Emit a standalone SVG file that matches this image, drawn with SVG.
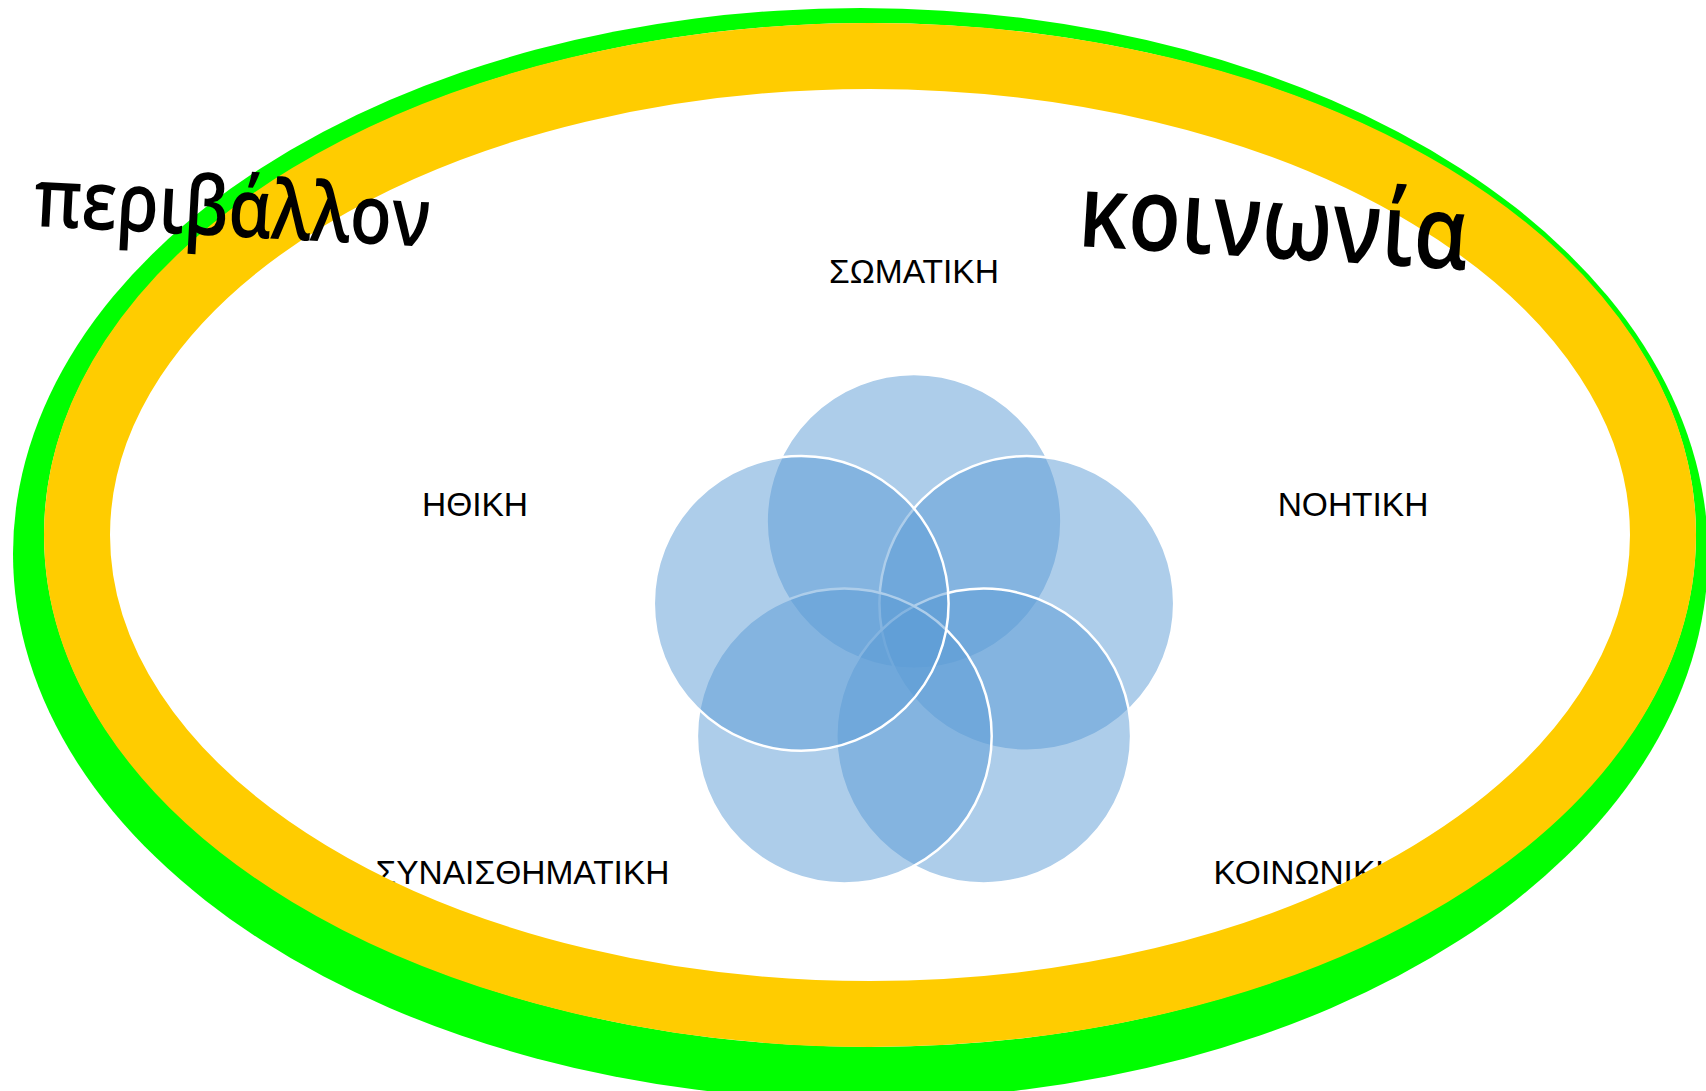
<svg xmlns="http://www.w3.org/2000/svg" width="1706" height="1091" viewBox="0 0 1706 1091">
  <style>
    .bg { fill: #ffffff; }
    .venn { fill: #5B9BD5; fill-opacity: 0.5; stroke: #ffffff; stroke-width: 2.5; }
    .lbl { font-family: "Liberation Sans", Arial, sans-serif; font-size: 33.5px; fill: #000000; text-anchor: middle; }
    .big { font-family: "Open Sans", "Noto Sans", "DejaVu Sans", sans-serif; font-weight: 600; fill: #000000; }
  </style>
  <rect x="0" y="0" width="1706" height="1091" class="bg"/>
  <g id="environment-ring">
    <ellipse cx="860.5" cy="554" rx="847.5" ry="546" fill="#00FF00"/>
    <ellipse cx="870" cy="535" rx="826" ry="512" fill="#ffffff"/>
  </g>
  <g id="circles">
    <g id="node-somatiki"><circle cx="914" cy="521.4" r="147.4" class="venn"/></g>
    <g id="node-noitiki"><circle cx="1026.8" cy="603.4" r="147.4" class="venn"/></g>
    <g id="node-koinoniki"><circle cx="983.7" cy="736" r="147.4" class="venn"/></g>
    <g id="node-synaisthimatiki"><circle cx="844.3" cy="736" r="147.4" class="venn"/></g>
    <g id="node-ithiki"><circle cx="801.2" cy="603.4" r="147.4" class="venn"/></g>
  </g>
  <g id="labels">
    <text id="label-somatiki" class="lbl" x="914" y="283">ΣΩΜΑΤΙΚΗ</text>
    <text id="label-ithiki" class="lbl" x="475" y="516">ΗΘΙΚΗ</text>
    <text id="label-noitiki" class="lbl" x="1353" y="516">ΝΟΗΤΙΚΗ</text>
    <text id="label-synaisthimatiki" class="lbl" x="522.5" y="884">ΣΥΝΑΙΣΘΗΜΑΤΙΚΗ</text>
    <text id="label-koinoniki" class="lbl" x="1306.5" y="884">ΚΟΙΝΩΝΙΚΗ</text>
  </g>
  <g id="society-ring">
    <ellipse cx="870" cy="535" rx="793" ry="479" fill="none" stroke="#FFCC00" stroke-width="66"/>
  </g>
  <g id="connectors"/>
  <g id="node-perivallon">
    <text class="big" x="33" y="226" font-size="82" textLength="397" lengthAdjust="spacingAndGlyphs" transform="rotate(3 33 226)">περιβάλλον</text>
  </g>
  <g id="node-koinonia">
    <text class="big" x="1077" y="246" font-size="102" textLength="390" lengthAdjust="spacingAndGlyphs" transform="rotate(3.5 1077 246)">κοινωνία</text>
  </g>
</svg>
